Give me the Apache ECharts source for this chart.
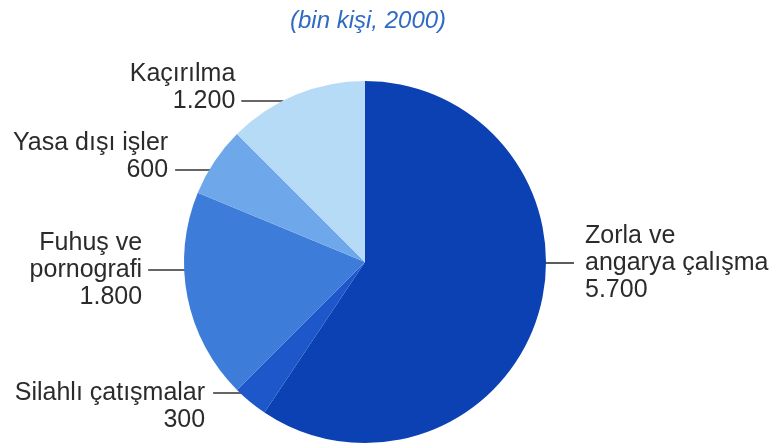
<!DOCTYPE html>
<html>
<head>
<meta charset="utf-8">
<script src="https://cdn.jsdelivr.net/npm/echarts@6/dist/echarts.min.js"></script>
<style>
  html, body { margin: 0; padding: 0; background: #fff; }
  #chart { width: 777px; height: 448px; }
</style>
</head>
<body>
<div id="chart"></div>
<script>
// veriler (bin kişi, 2000)
const categories = ['Zorla ve\nangarya çalışma', 'Silahlı çatışmalar', 'Fuhuş ve\npornografi', 'Yasa dışı işler', 'Kaçırılma']
const values = [5700, 300, 1800, 600, 1200]
const colors = ['#0c41b4', '#1e57c9', '#3d7dd9', '#6ea8ea', '#b5dbf6']

// etiket çizgileri için yerleşim (çizginin y konumu, taraf, bağlandığı satır)
const leaders = [
  { y: 263, side: 'right', row: 1, len: 30, inset: 2, gap: 11 },
  { y: 393, side: 'left', row: 0, len: 37, inset: 10, gap: 8 },
  { y: 270, side: 'left', row: 1, len: 40, inset: 4, gap: 6 },
  { y: 170, side: 'left', row: 1, len: 38, inset: 4, gap: 7 },
  { y: 101, side: 'left', row: 1, len: 42, inset: 1, gap: 6 }
]

const cx = 365
const cy = 262
const r = 181
const lineH = 27

function fmt (v) {
  return String(v).replace(/\B(?=(\d{3})+(?!\d))/g, '.')
}

const chart = echarts.init(document.getElementById('chart'))
chart.setOption({
  animation: false,
  backgroundColor: '#fff',
  title: {
    text: '(bin kişi, 2000)',
    left: 285,
    top: 4,
    textStyle: {
      fontFamily: 'Liberation Sans',
      fontStyle: 'italic',
      fontWeight: 'normal',
      fontSize: 24,
      color: '#2f6bc3'
    }
  },
  series: [
    {
      type: 'pie',
      center: [cx, cy],
      radius: r,
      startAngle: 90,
      clockwise: true,
      avoidLabelOverlap: false,
      itemStyle: { borderWidth: 0 },
      emphasis: { disabled: true },
      data: categories.map((name, i) => ({
        name: name,
        value: values[i],
        itemStyle: { color: colors[i] }
      })),
      label: {
        show: true,
        position: 'outside',
        formatter: p => p.name + '\n' + fmt(p.value),
        fontFamily: 'Liberation Sans',
        fontSize: 25,
        lineHeight: lineH,
        color: '#2b2b2b'
      },
      labelLine: {
        show: true,
        lineStyle: { color: '#333', width: 1.6 }
      },
      labelLayout: function (params) {
        const L = leaders[params.dataIndex]
        const dy = L.y - cy
        const dx = Math.sqrt(r * r - dy * dy)
        const sign = L.side === 'right' ? 1 : -1
        const x0 = cx + sign * (dx - L.inset)
        const x1 = x0 + sign * L.len
        return {
          x: x1 + sign * L.gap,
          y: L.y - (L.row + 0.5) * lineH,
          align: L.side === 'right' ? 'left' : 'right',
          verticalAlign: 'top',
          labelLinePoints: [[x0, L.y], [(x0 + x1) / 2, L.y], [x1, L.y]]
        }
      }
    }
  ]
})
</script>
</body>
</html>
